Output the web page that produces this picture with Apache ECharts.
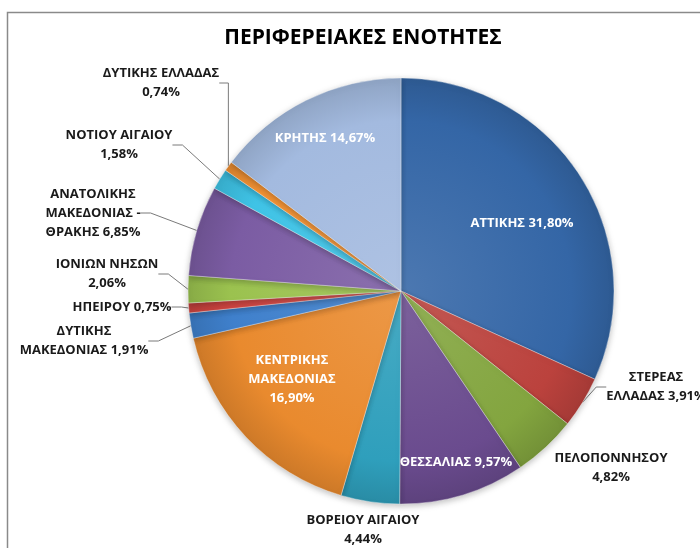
<!DOCTYPE html>
<html>
<head>
<meta charset="utf-8">
<script src="https://cdn.jsdelivr.net/npm/echarts@6/dist/echarts.min.js"></script>
<style>
  html, body { margin: 0; padding: 0; background: #fff; }
  #chart { width: 700px; height: 548px; }
</style>
</head>
<body>
<div id="chart"></div>
<script>
// δεδομένα (σειρά: από τις 12 η ώρα, δεξιόστροφα)
const regions = [
  'ΑΤΤΙΚΗΣ', 'ΣΤΕΡΕΑΣ\nΕΛΛΑΔΑΣ', 'ΠΕΛΟΠΟΝΝΗΣΟΥ', 'ΘΕΣΣΑΛΙΑΣ', 'ΒΟΡΕΙΟΥ ΑΙΓΑΙΟΥ',
  'ΚΕΝΤΡΙΚΗΣ\nΜΑΚΕΔΟΝΙΑΣ', 'ΔΥΤΙΚΗΣ\nΜΑΚΕΔΟΝΙΑΣ', 'ΗΠΕΙΡΟΥ', 'ΙΟΝΙΩΝ ΝΗΣΩΝ',
  'ΑΝΑΤΟΛΙΚΗΣ\nΜΑΚΕΔΟΝΙΑΣ -\nΘΡΑΚΗΣ', 'ΝΟΤΙΟΥ ΑΙΓΑΙΟΥ', 'ΔΥΤΙΚΗΣ ΕΛΛΑΔΑΣ', 'ΚΡΗΤΗΣ'
]
const shares = [31.80, 3.91, 4.82, 9.57, 4.44, 16.90, 1.91, 0.75, 2.06, 6.85, 1.58, 0.74, 14.67]
// ' ' = τιμή στην ίδια γραμμή, '\n' = σε νέα γραμμή
const valueSep = [' ', ' ', '\n', ' ', '\n', '\n', ' ', ' ', '\n', ' ', '\n', '\n', ' ']

// εμφάνιση
const colors = ['#3466a6', '#bb423d', '#83a53f', '#6a4b8e', '#2f9fbc', '#e98a2e',
  '#3f80cc', '#cf4541', '#9bc24f', '#7b5ca3', '#3fc3e6', '#f39334', '#a3badf']
const inside = [0, 3, 5, 12]
const noLine = [2, 4]
const labelPos = [
  [522, 223], [656, 387], [611, 468], [456, 462], [363, 530], [292, 379], [84, 341],
  [122, 307], [107, 274], [93, 213], [119, 145], [161, 83], [325, 138]
]
const CX = 401, CY = 291, R = 213

function shade(hex, f) {
  const n = parseInt(hex.slice(1), 16)
  let r = n >> 16, g = (n >> 8) & 255, b = n & 255
  const m = v => Math.max(0, Math.min(255, Math.round(f > 0 ? v + (255 - v) * f : v * (1 + f))))
  return `rgb(${m(r)},${m(g)},${m(b)})`
}

const chart = echarts.init(document.getElementById('chart'))

const data = shares.map((v, i) => {
  const isIn = inside.includes(i)
  return {
    name: regions[i],
    value: v,
    itemStyle: {
      color: new echarts.graphic.RadialGradient(CX, CY, R, [
        { offset: 0, color: shade(colors[i], 0.12) },
        { offset: 0.8, color: colors[i] },
        { offset: 1, color: shade(colors[i], -0.12) }
      ], true)
    },
    label: {
      position: isIn ? 'inside' : 'outside',
      color: isIn ? '#ffffff' : '#1a1a1a'
    },
    labelLine: { show: !isIn && !noLine.includes(i) }
  }
})

chart.setOption({
  backgroundColor: '#fff',
  animation: false,
  title: {
    text: 'ΠΕΡΙΦΕΡΕΙΑΚΕΣ ΕΝΟΤΗΤΕΣ',
    left: 358,
    top: 23,
    textAlign: 'center',
    textStyle: { fontFamily: 'Open Sans', fontWeight: 'bold', fontSize: 21, color: '#000' }
  },
  graphic: [{
    type: 'rect', left: 5, top: 10,
    shape: { width: 900, height: 800 },
    style: { fill: 'none', stroke: '#8a8a8a', lineWidth: 1.5 },
    silent: true
  }],
  series: [{
    type: 'pie',
    center: [CX, CY],
    radius: R,
    startAngle: 90,
    clockwise: true,
    data: data,
    itemStyle: { borderColor: 'rgba(255,255,255,0.35)', borderWidth: 1,
      shadowBlur: 6, shadowColor: 'rgba(0,0,0,0.25)', shadowOffsetY: 2 },
    label: {
      show: true,
      fontFamily: 'Open Sans',
      fontWeight: 'bold',
      fontSize: 13,
      lineHeight: 19,
      align: 'center',
      overflow: 'none',
      formatter: p => p.name + valueSep[p.dataIndex] + p.value.toFixed(2).replace('.', ',') + '%'
    },
    labelLine: { lineStyle: { color: '#7a7a7a', width: 1 }, length: 10, length2: 10 },
    labelLayout: p => ({
      x: labelPos[p.dataIndex][0],
      y: labelPos[p.dataIndex][1],
      align: 'center',
      verticalAlign: 'middle'
    }),
    emphasis: { disabled: true }
  }]
})
</script>
</body>
</html>
